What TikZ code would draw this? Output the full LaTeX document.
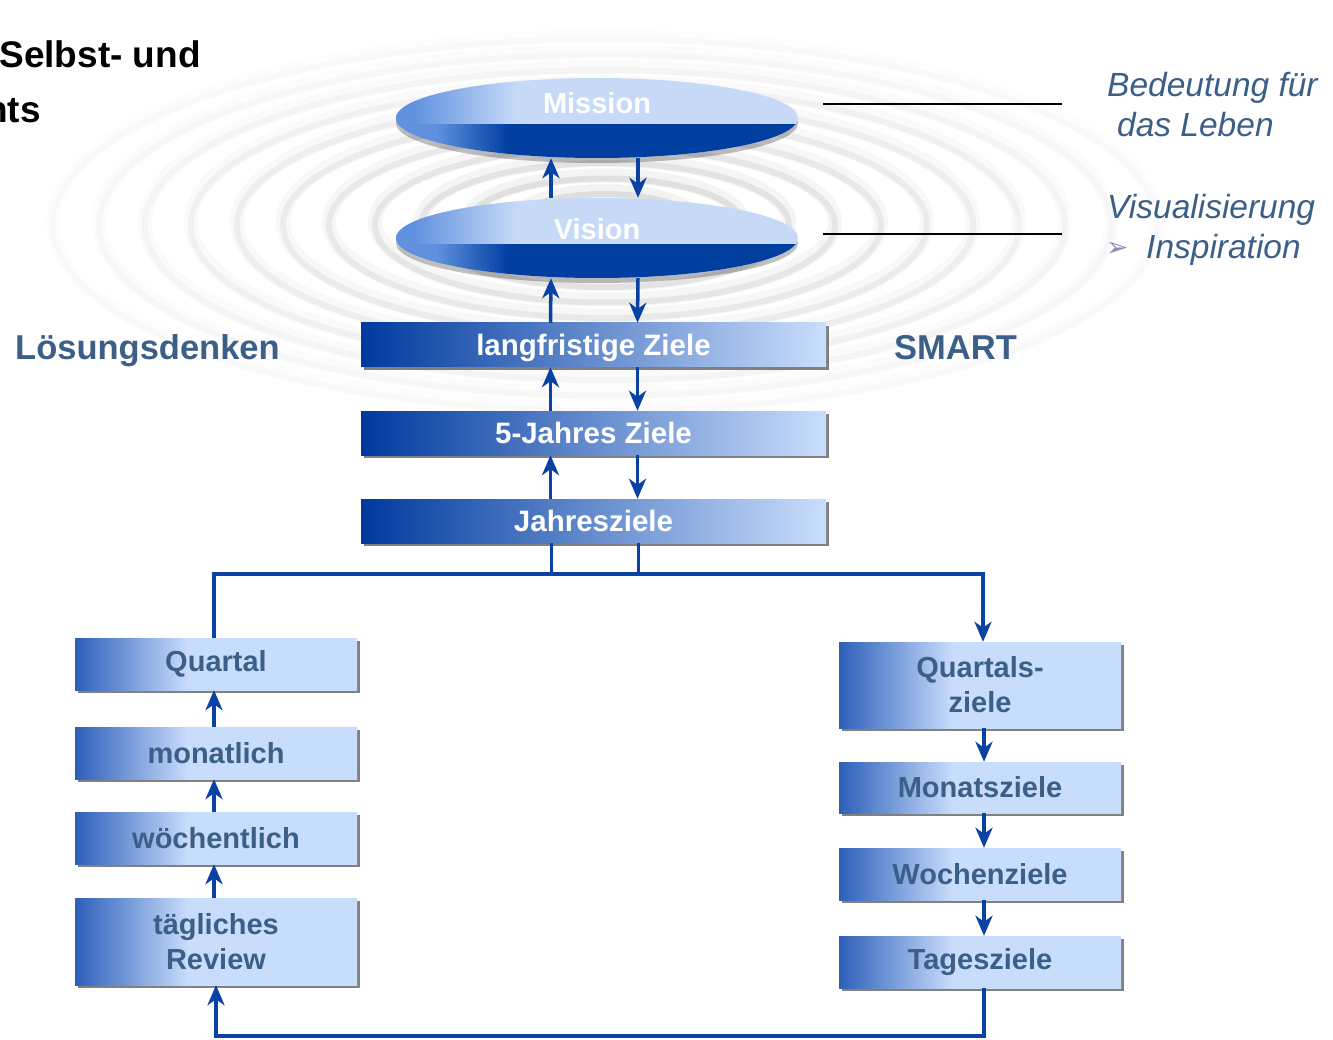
\documentclass[tikz,border=0pt]{standalone}
\usepackage{fontspec}
\setmainfont{Liberation Sans}
\newfontfamily\dejavu{DejaVu Sans}
\usetikzlibrary{shapes.geometric,shadows,arrows.meta,calc}
\definecolor{disclight}{RGB}{198,218,248}
\definecolor{discmid}{RGB}{95,145,222}
\definecolor{discdark}{RGB}{0,62,160}
\definecolor{topL}{RGB}{0,58,158}
\definecolor{topR}{RGB}{202,222,252}
\definecolor{boxdark}{RGB}{45,95,185}
\definecolor{boxlight}{RGB}{200,220,252}
\definecolor{conn}{RGB}{10,65,165}
\definecolor{txtblue}{RGB}{60,95,135}
\definecolor{bullet}{RGB}{140,140,175}
\pgfdeclarehorizontalshading{discup}{100bp}{color(0bp)=(discmid); color(27bp)=(discmid); color(40bp)=(disclight); color(100bp)=(disclight)}
\pgfdeclarehorizontalshading{disclow}{100bp}{color(0bp)=(discmid); color(30bp)=(discmid); color(39bp)=(discdark); color(100bp)=(discdark)}
\pgfdeclarehorizontalshading{lowbox}{100bp}{color(0bp)=(boxdark); color(25bp)=(boxdark); color(45bp)=(boxlight); color(100bp)=(boxlight)}
\begin{document}
\begin{tikzpicture}[x=1pt,y=-1pt,
  disc/.style={ellipse, minimum width=402pt, minimum height=80pt, inner sep=0pt,
    drop shadow={shadow xshift=0pt, shadow yshift=-5pt, fill=black, opacity=.25},
    path picture={
      \shade[shading=discup] (path picture bounding box.north west) rectangle (path picture bounding box.south east);
      \shade[shading=disclow] ([yshift=-7pt]path picture bounding box.west) rectangle (path picture bounding box.south east);
    }},
  disctext/.style={text=white, font=\fontsize{29}{35}\selectfont\bfseries, inner sep=0pt},
  topbox/.style={rectangle, minimum width=465pt, minimum height=44pt, inner sep=0pt,
    left color=topL, right color=topR,
    drop shadow={shadow xshift=3pt, shadow yshift=-3pt, fill=black!70, opacity=.7},
    text=white, font=\fontsize{29.5}{35}\selectfont\bfseries, text height=21pt, text depth=0pt},
  lowbox/.style={rectangle, minimum width=282pt, inner sep=0pt, shade, shading=lowbox,
    drop shadow={shadow xshift=3pt, shadow yshift=-3pt, fill=black!70, opacity=.7},
    text=txtblue, font=\fontsize{29}{35}\selectfont\bfseries, align=center},
  line/.style={conn, line width=3.5pt},
  arr/.style={conn, line width=3.5pt, -{Stealth[length=20pt,width=17pt,inset=6pt]}},
  side/.style={text=txtblue, font=\fontsize{33.5}{40}\selectfont\itshape, inner sep=0pt, anchor=base west},
  big/.style={text=txtblue, font=\fontsize{34.5}{40}\selectfont\bfseries, inner sep=0pt, anchor=base west}
]
\useasboundingbox (0,0) rectangle (1333,1040);
\fill[white] (0,0) rectangle (1333,1040);
% ripples
\begin{scope}
\clip (0,0) rectangle (1333,1040);
\foreach \i [evaluate=\i as \op using {0.22*(1-\i/14)}] in {1,...,12} {
  \draw[black, line width=14pt, opacity=\op*0.25] (605,222) ellipse ({46*\i} and {15.5*\i});
  \draw[black, line width=6pt, opacity=\op*0.45] (605,225) ellipse ({46*\i} and {15.5*\i});
}
\end{scope}

% title text
\node[anchor=base east, inner sep=0pt, font=\fontsize{37}{44}\selectfont\bfseries] (title1) at (201,68) {Selbst- und};
\node[anchor=base east, inner sep=0pt, font=\fontsize{37}{44}\selectfont\bfseries] (title2) at (41,123) {nts};

% discs
\node[disc] (mission) at (597,118) {};
\node[disctext, anchor=base] (missiontxt) at (597,114) {Mission};
\node[disc] (vision) at (597,238) {};
\node[disctext, anchor=base] (visiontxt) at (597,240) {Vision};

% top boxes
\node[topbox] (lang) at (593.5,345) {langfristige Ziele};
\node[topbox] (fuenf) at (593.5,433) {5-Jahres Ziele};
\node[topbox] (jahr) at (593.5,521) {Jahresziele};

% left boxes
\node[lowbox, minimum height=52pt] (quartal) at (216,664) {Quartal};
\node[lowbox, minimum height=52pt] (monat) at (216,753) {monatlich};
\node[lowbox, minimum height=52pt] (woche) at (216,838) {wöchentlich};
\node[lowbox, minimum height=87pt] (review) at (216,941.5) {tägliches\\Review};

% right boxes
\node[lowbox, minimum height=86pt] (qz) at (980,685) {Quartals-\\ziele};
\node[lowbox, minimum height=51pt] (mz) at (980,787.5) {Monatsziele};
\node[lowbox, minimum height=52pt] (wz) at (980,874) {Wochenziele};
\node[lowbox, minimum height=52pt] (tz) at (980,962) {Tagesziele};

% arrows between discs and top boxes
\draw[arr] ([xshift=-46pt]vision.north) -- ([xshift=-46pt]mission.south);
\draw[arr] ([xshift=41pt]mission.south) -- ([xshift=41pt]vision.north);
\draw[arr] ([xshift=-43pt]lang.north) -- ([xshift=-46pt]vision.south);
\draw[arr] ([xshift=41pt]vision.south) -- ([xshift=44pt]lang.north);
\draw[arr] ([xshift=-43pt]fuenf.north) -- ([xshift=-43pt]lang.south);
\draw[arr] ([xshift=44pt]lang.south) -- ([xshift=44pt]fuenf.north);
\draw[arr] ([xshift=-43pt]jahr.north) -- ([xshift=-43pt]fuenf.south);
\draw[arr] ([xshift=44pt]fuenf.south) -- ([xshift=44pt]jahr.north);

% bus
\coordinate (bus) at (600,574);
\draw[line] ([xshift=-42pt]jahr.south) -- ([xshift=-42pt]jahr.south |- bus);
\draw[line] ([xshift=45pt]jahr.south) -- ([xshift=45pt]jahr.south |- bus);
\draw[arr] ([xshift=-2pt]quartal.north) |- (bus) -| ([xshift=3pt]qz.north);

% left chain
\draw[arr] ([xshift=-2pt]monat.north) -- ([xshift=-2pt]quartal.south);
\draw[arr] ([xshift=-2pt]woche.north) -- ([xshift=-2pt]monat.south);
\draw[arr] ([xshift=-2pt]review.north) -- ([xshift=-2pt]woche.south);

% right chain
\draw[arr] ([xshift=4pt]qz.south) -- ([xshift=4pt]mz.north);
\draw[arr] ([xshift=4pt]mz.south) -- ([xshift=4pt]wz.north);
\draw[arr] ([xshift=4pt]wz.south) -- ([xshift=4pt]tz.north);

% bottom loop
\coordinate (bot) at (600,1036);
\draw[arr] ([xshift=4pt]tz.south) |- (bot) -| (review.south);

% side lines and texts
\coordinate (l1a) at (823,104);
\coordinate (l1b) at (1062,104);
\coordinate (l2a) at (823,234);
\coordinate (l2b) at (1062,234);
\draw[black, line width=2pt] (l1a) -- (l1b);
\draw[black, line width=2pt] (l2a) -- (l2b);

\node[side] (bed) at (1107,97) {Bedeutung für};
\node[side] (leben) at (1117,137) {das Leben};
\node[side] (visu) at (1107,219) {Visualisierung};
\node[inner sep=0pt, anchor=base west, text=bullet, font=\dejavu\fontsize{27}{30}\selectfont] (bul) at (1106,257) {➢};
\node[side] (insp) at (1146,259) {Inspiration};

\node[big] (loes) at (15,360) {Lösungsdenken};
\node[big] (smart) at (894,360) {SMART};
\end{tikzpicture}
\end{document}
